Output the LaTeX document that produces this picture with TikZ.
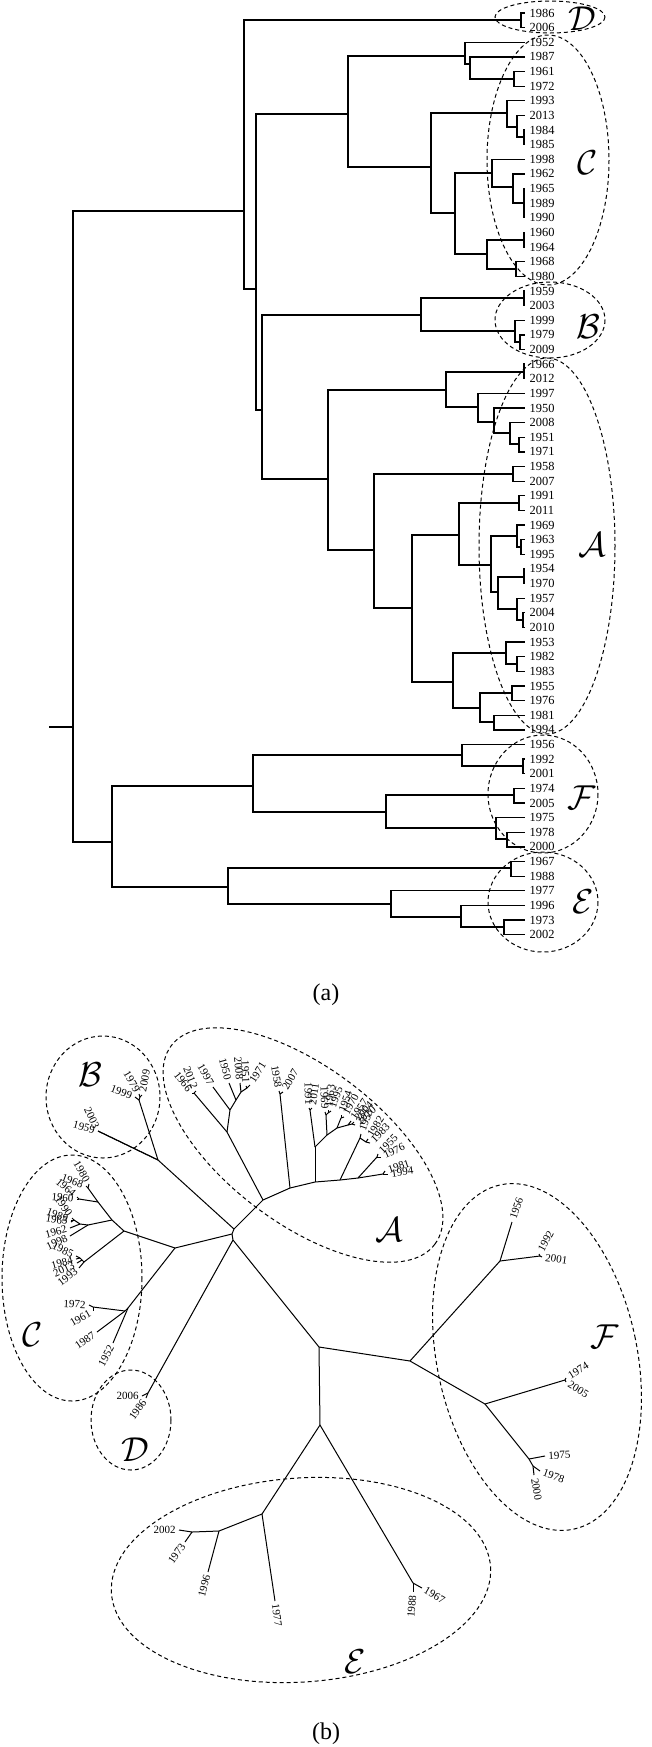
\documentclass[tikz,border=0pt]{standalone}
\usepackage{fontspec}
\setmainfont{Liberation Serif}
\usetikzlibrary{positioning}

\begin{document}
\begin{tikzpicture}
  [
  x=0.5pt, y=-0.5pt, line width=0.65pt,
  leaf/.style={anchor=west, inner xsep=2pt, inner ysep=0pt, font=\fontsize{6.2}{7}\selectfont},
  bleaf/.style={inner xsep=1.5pt, inner ysep=0pt, font=\fontsize{5.5}{6}\selectfont},
  clade/.style={line width=0.5pt, dash pattern=on 2pt off 1.5pt},
  cladename/.style={font=\fontsize{16}{18}\selectfont},
  sublabel/.style={font=\fontsize{12}{14}\selectfont}
  ]
  \useasboundingbox (0,0) rectangle (652,1747);

  % (a) dendrogram
  \foreach \yr [count=\i from 0] in {1986,2006,1952,1987,1961,1972,1993,2013,1984,1985,1998,1962,1965,1989,1990,1960,1964,1968,1980,1959,2003,1999,1979,2009,1966,2012,1997,1950,2008,1951,1971,1958,2007,1991,2011,1969,1963,1995,1954,1970,1957,2004,2010,1953,1982,1983,1955,1976,1981,1994,1956,1992,2001,1974,2005,1975,1978,2000,1967,1988,1977,1996,1973,2002}
    \node[leaf] (a\yr) at (525,13+14.63*\i) {\yr};

  \foreach \n/\x/\y in {aStub/49/727, aRoot/73/727, aTop/244/211, aD/521/20, aN258/256/289,
    aC/348/114, aC1/465/56, aC1a/470/64, aC1b/514/79, aC2/431/167, aC2a/507/113, aC2b/517/127,
    aC2c/524/137, aC2d/455/213, aC2e/492/173, aC2f/513/187, aC2g/524/203, aC2h/487/254,
    aC2i/524/240, aC2j/516/269, aN264/262/410, aB/421/315, aB1/524/298, aB2/515/331, aB3/520/342,
    aA/328/479, aA1/446/390, aA1a/524/372, aA1b/478/407, aA1c/494/422, aA1d/510/433, aA1e/519/444,
    aA2/374/550, aA2a/513/474, aA3/412/608, aA4/459/535, aA4a/519/503, aA5/491/565, aA6/517/536,
    aA6a/521/547, aA7/498/592, aA7a/524/577, aA8/517/609, aA8a/523/620, aA9/453/682, aA10/506/653,
    aA10a/517/664, aA11/480/708, aA11a/512/693, aA11b/494/722, aBot/112/842, aF/253/786,
    aF1/462/755, aF1a/523/766, aF2/386/812, aF2a/514/795, aF2b/496/828, aF2c/507/839,
    aE/228/887, aE1/511/868, aE2/391/904, aE3/461/917, aE3a/504/927}
    \coordinate (\n) at (\x,\y);

  \draw (aStub) -- (aRoot);
  \foreach \p/\c in {aRoot/aTop, aRoot/aBot, aTop/aD, aTop/aN258, aN258/aC, aN258/aN264,
    aC/aC1, aC/aC2, aC1/aC1a, aC1a/aC1b, aC2/aC2a, aC2a/aC2b, aC2b/aC2c, aC2/aC2d, aC2d/aC2e,
    aC2e/aC2f, aC2f/aC2g, aC2d/aC2h, aC2h/aC2i, aC2h/aC2j, aN264/aB, aN264/aA, aB/aB1, aB/aB2,
    aB2/aB3, aA/aA1, aA/aA2, aA1/aA1a, aA1/aA1b, aA1b/aA1c, aA1c/aA1d, aA1d/aA1e, aA2/aA2a,
    aA2/aA3, aA3/aA4, aA3/aA9, aA4/aA4a, aA4/aA5, aA5/aA6, aA5/aA7, aA6/aA6a, aA7/aA7a, aA7/aA8,
    aA8/aA8a, aA9/aA10, aA9/aA11, aA10/aA10a, aA11/aA11a, aA11/aA11b, aBot/aF, aBot/aE,
    aF/aF1, aF/aF2, aF1/aF1a, aF2/aF2a, aF2/aF2b, aF2b/aF2c, aE/aE1, aE/aE2, aE2/aE3, aE3/aE3a}
    \draw (\p) |- (\c);
  \foreach \p/\c in {aD/1986, aD/2006, aC1/1952, aC1a/1987, aC1b/1961, aC1b/1972, aC2a/1993,
    aC2b/2013, aC2c/1984, aC2c/1985, aC2e/1998, aC2f/1962, aC2g/1965, aC2g/1989, aC2g/1990,
    aC2i/1960, aC2i/1964, aC2j/1968, aC2j/1980, aB1/1959, aB1/2003, aB2/1999, aB3/1979, aB3/2009,
    aA1a/1966, aA1a/2012, aA1b/1997, aA1c/1950, aA1d/2008, aA1e/1951, aA1e/1971, aA2a/1958,
    aA2a/2007, aA4a/1991, aA4a/2011, aA6/1969, aA6a/1963, aA6a/1995, aA7a/1954, aA7a/1970,
    aA8/1957, aA8a/2004, aA8a/2010, aA10/1953, aA10a/1982, aA10a/1983, aA11a/1955, aA11a/1976,
    aA11b/1981, aA11b/1994, aF1/1956, aF1a/1992, aF1a/2001, aF2a/1974, aF2a/2005, aF2b/1975,
    aF2c/1978, aF2c/2000, aE1/1967, aE1/1988, aE2/1977, aE3/1996, aE3a/1973, aE3a/2002}
    \draw (\p) |- (a\c.west);

  \draw[clade] (550,17) ellipse [x radius=55, y radius=16];
  \draw[clade] (548,160) ellipse [x radius=61, y radius=125];
  \draw[clade] (550,320) ellipse [x radius=55, y radius=38];
  \draw[clade] (547,546) ellipse [x radius=68, y radius=188];
  \draw[clade] (543,794) ellipse [x radius=55, y radius=59];
  \draw[clade] (543,902) ellipse [x radius=55, y radius=50];
  \node[cladename] (aLD) at (582,19) {$\mathcal{D}$};
  \node[cladename] (aLC) at (588,163) {$\mathcal{C}$};
  \node[cladename] (aLB) at (588,327) {$\mathcal{B}$};
  \node[cladename] (aLA) at (592,545) {$\mathcal{A}$};
  \node[cladename] (aLF) at (582,798) {$\mathcal{F}$};
  \node[cladename] (aLE) at (583,902) {$\mathcal{E}$};
  \node[sublabel] (capa) at (326,995) {(a)};

  % (b) unrooted tree
  \begin{scope}[line width=0.5pt]
  \foreach \n/\x/\y in {bHD/233/1240, bHC/232/1234, bHB/234/1229, bH2/319/1347, bNB/158/1160,
    bB2/139/1100, bB3/140/1097, bA/263/1200, bA1/227/1132, bA1a/194/1093, bA1b/230/1110,
    bA1c/236/1100, bA1d/241/1092, bA1e/247/1088, bA2/290/1188, bA2a/280/1094, bA3/315/1182,
    bA4/315/1147, bA4a/310/1110, bA5/327/1135, bA6/326/1115, bA6a/328/1113, bA7/337/1128,
    bA7a/341/1118, bA8/348/1125, bA8a/352/1124, bA9/340/1180, bA10/360/1138, bA10a/366/1142,
    bA11/358/1178, bA11a/377/1157, bA11b/383/1174, bC/175/1248, bC1/128/1308, bC1a/125/1311,
    bC1b/93/1307, bC2/124/1231, bC2a/84/1262, bC2b/82/1260, bC2c/80/1258, bC2d/112/1220,
    bC2e/88/1225, bC2f/80/1224, bC2g/74/1220, bC2h/98/1202, bC2i/79/1199, bC2j/88/1188,
    bD/148/1393, bF/410/1361, bF1/500/1261, bF1a/540/1256, bF2/485/1404, bF2a/565/1380,
    bF2b/529/1459, bF2c/533/1466, bE/320/1425, bE1/413/1583, bE2/262/1514, bE3/219/1531,
    bE3a/192/1532}
    \coordinate (\n) at (\x,\y);

  \foreach \p/\c in {bHD/bHC, bHC/bHB, bHD/bH2, bHD/bD, bHC/bC, bHB/bNB, bHB/bA, bNB/bB2,
    bB2/bB3, bA/bA1, bA1/bA1a, bA1/bA1b, bA1b/bA1c, bA1c/bA1d, bA1d/bA1e, bA/bA2, bA2/bA2a,
    bA2/bA3, bA3/bA4, bA4/bA4a, bA4/bA5, bA5/bA6, bA6/bA6a, bA5/bA7, bA7/bA7a, bA7/bA8,
    bA8/bA8a, bA3/bA9, bA9/bA10, bA10/bA10a, bA9/bA11, bA11/bA11a, bA11/bA11b, bC/bC1,
    bC1/bC1a, bC1a/bC1b, bC/bC2, bC2/bC2a, bC2a/bC2b, bC2b/bC2c, bC2/bC2d, bC2d/bC2e,
    bC2e/bC2f, bC2f/bC2g, bC2d/bC2h, bC2h/bC2i, bC2h/bC2j, bH2/bF, bF/bF1, bF1/bF1a, bF/bF2,
    bF2/bF2a, bF2/bF2b, bF2b/bF2c, bH2/bE, bE/bE1, bE/bE2, bE2/bE3, bE3/bE3a}
    \draw (\p) -- (\c);

  \foreach \yr/\p/\x/\y/\r/\s in {1959/bNB/98/1131/-15/east, 2003/bNB/98/1131/-65/east,
    1999/bB2/135/1097/-20/east, 1979/bB3/139/1094/-60/east, 2009/bB3/142/1095/80/west,
    1966/bA1a/192/1093/-52/east, 2012/bA1a/196/1091/-68/east, 1997/bA1b/213/1087/-60/east,
    1950/bA1c/229/1083/-75/east, 2008/bA1d/240/1083/-85/east, 1951/bA1e/246/1086/-88/east,
    1971/bA1e/250/1085/58/west, 1958/bA2a/279/1091/-80/east, 2007/bA2a/283/1092/60/west,
    1991/bA4a/309/1108/-88/east, 2011/bA4a/312/1108/82/west, 1969/bA6/325/1112/-88/east,
    1963/bA6a/328/1110/82/west, 1995/bA6a/331/1111/70/west, 1954/bA7a/341/1115/72/west,
    1970/bA7a/344/1117/62/west, 1957/bA8/351/1121/55/west, 2004/bA8a/354/1122/48/west,
    2010/bA8a/355/1125/40/west, 1953/bA10/361/1134/70/west, 1982/bA10a/368/1139/58/west,
    1983/bA10a/370/1143/45/west, 1955/bA11a/378/1154/45/west, 1976/bA11a/381/1157/25/west,
    1981/bA11b/385/1171/18/west, 1994/bA11b/388/1174/8/west,
    1952/bC1/113/1343/62/east, 1987/bC1a/97/1332/35/east, 1961/bC1b/93/1311/30/east,
    1972/bC1b/89/1305/-3/east, 1993/bC2a/79/1268/38/east, 2013/bC2b/77/1263/25/east,
    1984/bC2c/76/1259/15/east, 1985/bC2c/76/1256/-25/east, 1998/bC2e/70/1236/25/east,
    1962/bC2f/70/1228/15/east, 1965/bC2g/71/1222/-10/east, 1989/bC2g/71/1220/-20/east,
    1990/bC2g/72/1218/-55/east, 1960/bC2i/77/1199/-5/east, 1964/bC2i/77/1197/-40/east,
    1968/bC2j/86/1186/-20/east, 1980/bC2j/89/1184/-60/east,
    2006/bD/142/1396/0/east, 1986/bD/146/1398/55/east,
    1956/bF1/512/1222/72/west, 1992/bF1a/539/1254/62/west, 2001/bF1a/542/1257/-8/west,
    1974/bF2a/566/1378/32/west, 2005/bF2a/566/1382/-32/west, 1975/bF2b/545/1456/3/west,
    1978/bF2c/540/1471/-20/west, 2000/bF2c/534/1475/-80/west,
    1967/bE1/422/1588/-30/west, 1988/bE1/413/1592/85/east, 1977/bE2/275/1601/-82/west,
    1996/bE3/208/1572/75/east, 1973/bE3a/185/1542/55/east, 2002/bE3a/179/1530/0/east}
  {
    \node[bleaf, anchor=\s, rotate=\r] (b\yr) at (\x,\y) {\yr};
    \draw (\p) -- (b\yr.\s);
  }
  \end{scope}

  \draw[clade] (103,1097) ellipse [x radius=57, y radius=61];
  \draw[clade, rotate around={-37:(303,1145)}] (303,1145) ellipse [x radius=165, y radius=78];
  \draw[clade] (72,1278) ellipse [x radius=70, y radius=123];
  \draw[clade] (131,1420) ellipse [x radius=40, y radius=50];
  \draw[clade, rotate around={12:(537,1357)}] (537,1357) ellipse [x radius=100, y radius=176];
  \draw[clade, rotate around={4:(301,1580)}] (301,1580) ellipse [x radius=190, y radius=102];
  \node[cladename] (bLB) at (90,1075) {$\mathcal{B}$};
  \node[cladename] (bLA) at (389,1230) {$\mathcal{A}$};
  \node[cladename] (bLF) at (605,1337) {$\mathcal{F}$};
  \node[cladename] (bLC) at (33,1335) {$\mathcal{C}$};
  \node[cladename] (bLD) at (135,1450) {$\mathcal{D}$};
  \node[cladename] (bLE) at (355,1662) {$\mathcal{E}$};
  \node[sublabel] (capb) at (326,1734) {(b)};
\end{tikzpicture}
\end{document}
